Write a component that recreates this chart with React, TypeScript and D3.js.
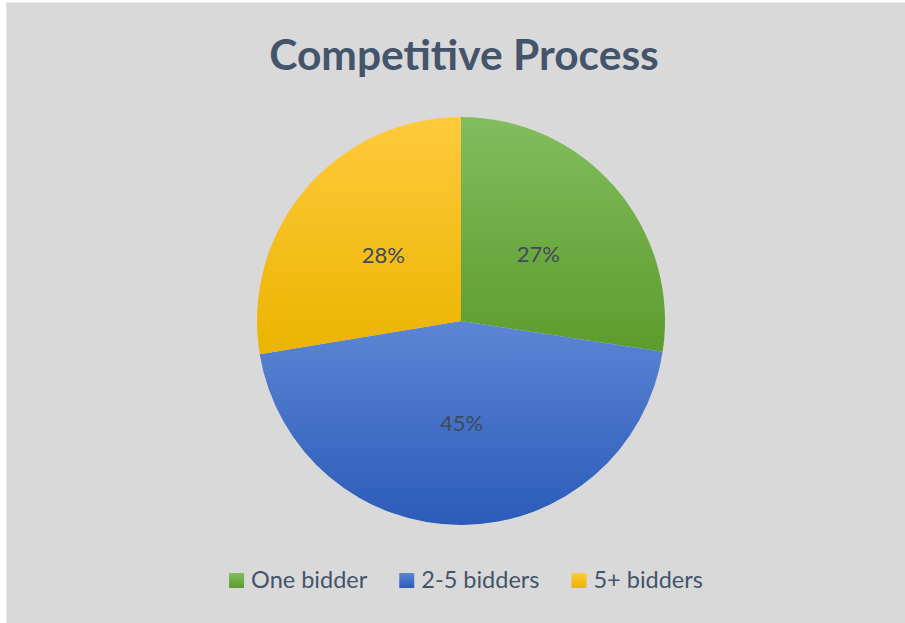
import React, { useEffect, useRef } from 'react';
import * as d3 from 'd3';

const categories = ['One bidder', '2-5 bidders', '5+ bidders'];
const shares = [0.274, 0.45, 0.276];
const gradTop = ['#82bd5e', '#5c86d4', '#ffca3c'];
const gradBottom = ['#5c9c2c', '#2b5bb9', '#ebb400'];
const title = 'Competitive Process';

const W = 905;
const H = 623;

export default function App() {
  const svgRef = useRef<SVGSVGElement>(null);

  useEffect(() => {
    if (!svgRef.current) return;
    const svg = d3.select(svgRef.current);
    svg.selectAll('*').remove();

    const font = 'Lato, "Open Sans", sans-serif';
    const textColor = '#44546a';

    // chart area
    svg.append('rect').attr('x', 0).attr('y', 0).attr('width', W).attr('height', H).attr('fill', '#ffffff');
    svg.append('rect')
      .attr('x', 6.5).attr('y', 2.5).attr('width', W).attr('height', H)
      .attr('fill', '#d9d9d9').attr('stroke', '#dfe6ee').attr('stroke-width', 1);

    const defs = svg.append('defs');
    categories.forEach((_, i) => {
      const g = defs.append('linearGradient')
        .attr('id', `grad${i}`)
        .attr('x1', 0).attr('y1', 0).attr('x2', 0).attr('y2', 1);
      g.append('stop').attr('offset', '0%').attr('stop-color', gradTop[i]);
      g.append('stop').attr('offset', '100%').attr('stop-color', gradBottom[i]);
    });

    svg.append('text')
      .attr('x', 464).attr('y', 70)
      .attr('text-anchor', 'middle')
      .attr('font-family', font)
      .attr('font-weight', 700)
      .attr('font-size', 42.5)
      .attr('fill', textColor)
      .text(title);

    const cx = 461;
    const cy = 321;
    const r = 204;

    const pie = d3.pie<number>().sort(null).value(d => d);
    const arcs = pie(shares);
    const arc = d3.arc<d3.PieArcDatum<number>>().innerRadius(0).outerRadius(r);
    const labelArc = d3.arc<d3.PieArcDatum<number>>().innerRadius(r * 0.5).outerRadius(r * 0.5);

    const g = svg.append('g').attr('transform', `translate(${cx},${cy})`);
    g.selectAll('path.slice')
      .data(arcs)
      .enter()
      .append('path')
      .attr('class', 'slice')
      .attr('d', arc)
      .attr('fill', (_, i) => `url(#grad${i})`);

    const fmt = d3.format('.0%');
    g.selectAll('text.lbl')
      .data(arcs)
      .enter()
      .append('text')
      .attr('class', 'lbl')
      .attr('transform', d => {
        const [x, y] = labelArc.centroid(d);
        return `translate(${x},${y})`;
      })
      .attr('text-anchor', 'middle')
      .attr('dy', '0.35em')
      .attr('font-family', font)
      .attr('font-size', 22)
      .attr('fill', '#404a5a')
      .text(d => fmt(d.data));

    // legend
    const legend = svg.append('g');
    const items = legend.selectAll('g.item')
      .data(categories)
      .enter()
      .append('g')
      .attr('class', 'item');
    items.append('rect')
      .attr('x', 0).attr('y', -15)
      .attr('width', 15).attr('height', 15)
      .attr('fill', (_, i) => `url(#grad${i})`);
    items.append('text')
      .attr('x', 22).attr('y', 0)
      .attr('font-family', font)
      .attr('font-size', 23.5)
      .attr('fill', textColor)
      .text(d => d);

    const gap = 32;
    const widths: number[] = [];
    items.each(function () {
      const t = d3.select(this).select('text').node() as SVGTextElement;
      widths.push(22 + t.getComputedTextLength());
    });
    const total = d3.sum(widths) + gap * (widths.length - 1);
    let x0 = 466 - total / 2;
    items.attr('transform', (_, i) => {
      const x = x0;
      x0 += widths[i] + gap;
      return `translate(${x},588)`;
    });
  }, []);

  return (
    <svg
      ref={svgRef}
      width={W}
      height={H}
      viewBox={`0 0 ${W} ${H}`}
      style={{ position: 'fixed', left: 0, top: 0, display: 'block' }}
    />
  );
}
